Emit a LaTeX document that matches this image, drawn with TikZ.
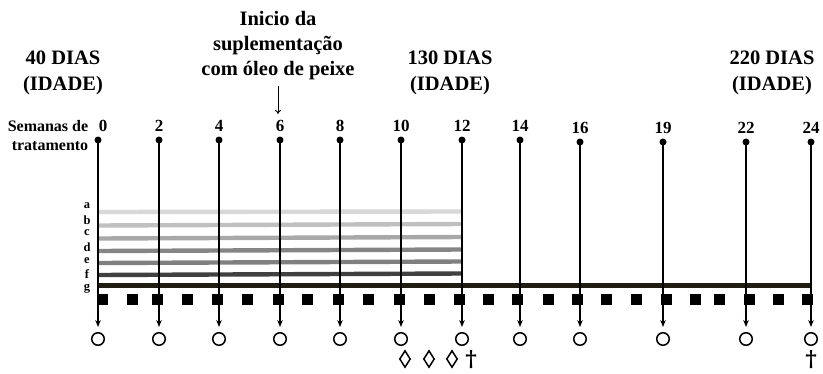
\documentclass[tikz,border=0pt]{standalone}
\usepackage{fontspec}
\setmainfont{Liberation Serif}
\newfontfamily\symfont{DejaVu Serif}
\usetikzlibrary{arrows.meta,shapes.geometric}
\definecolor{barA}{HTML}{D8D8D8}
\definecolor{barB}{HTML}{C0C0C0}
\definecolor{barC}{HTML}{A8A8A8}
\definecolor{barD}{HTML}{858585}
\definecolor{barE}{HTML}{808080}
\definecolor{barF}{HTML}{404040}
\definecolor{barG}{HTML}{201C12}
\tikzset{
  age/.style={align=center, font=\fontsize{20.5}{26}\selectfont\bfseries, inner sep=0pt},
  note/.style={align=center, font=\fontsize{20.5}{25}\selectfont\bfseries, inner sep=0pt},
  weeklbl/.style={font=\fontsize{17}{18}\selectfont\bfseries, inner sep=0pt},
  grp/.style={font=\fontsize{12.5}{13}\selectfont\bfseries, inner sep=0pt},
  dot/.style={circle, fill=black, minimum size=7pt, inner sep=0pt},
  obs/.style={circle, draw=black, line width=1.5pt, minimum size=12.5pt, inner sep=0pt},
  sq/.style={rectangle, fill=black, minimum size=11pt, inner sep=0pt},
  dia/.style={diamond, draw=black, line width=1.5pt, minimum width=11pt, minimum height=17pt, inner sep=0pt},
  dag/.style={font=\symfont\bfseries\fontsize{22}{22}\selectfont, inner sep=0pt},
  conn/.style={line width=1.1pt, -{Stealth[length=7pt,width=5.5pt]}, shorten >=5pt},
  bar/.style={line width=4.4pt},
}
\begin{document}
\begin{tikzpicture}[x=1pt,y=-1pt]
\useasboundingbox[fill=white] (0,0) rectangle (823,373);

% ages and start of supplementation
\node[age] (age40) at (63,73) {40 DIAS\\(IDADE)};
\node[age] (age130) at (450,73) {130 DIAS\\(IDADE)};
\node[age] (age220) at (772,73) {220 DIAS\\(IDADE)};
\node[note] (inicio) at (278,46) {Inicio da\\suplementação\\com óleo de peixe};
\coordinate (inicioend) at (278,114);
\draw[line width=0.9pt, -{To[length=4pt,width=6pt]}] (inicio.south) ++(0,6) -- (inicioend);

\node[align=right, inner sep=0pt, font=\fontsize{16}{19}\selectfont\bfseries] (semanas) at (48,136) {Semanas de\\tratamento};

% group bars a-f (weeks 0-12) and g (whole period)
\draw[bar, barA] (98,212) -- (462,211.5);
\draw[bar, barB] (98,225.5) -- (462,224);
\draw[bar, barC] (98,238.5) -- (462,237);
\draw[bar, barD] (98,251) -- (462,249.5);
\draw[bar, barE] (98,263) -- (462,261.5);
\draw[bar, barF] (98,275) -- (462,273.5);
\draw[line width=5pt, barG] (98,285.5) -- (811,285.5);

\foreach \l/\y in {a/206,b/220,c/233,d/247,e/261,f/274,g/289}
  \node[grp] (grp\l) at (87,\y) {\l};

% weekly markers
\foreach \x in {102,132,157,187,217,247,278,307,338,368,399,429,459,488,517,548,577,606,636,666,695,719,749,778,807}
  \node[sq] (sq\x) at (\x,299) {};

% sampling weeks: label, dot, arrow, circle
\foreach \w/\x/\y/\dx in {0/98/140/5,2/159/140/0,4/219/140/0,6/280/140/0,8/340/140/0,10/401/140/0,12/462/140/0,14/520/140/0,16/580/142/0,19/663/142/0,22/746/142/0,24/811/142/0}{
  \node[dot] (d\w) at (\x,\y) {};
  \node[obs] (c\w) at (\x,339) {};
  \node[weeklbl] (n\w) at (\x+\dx,\y-14) {\w};
  \draw[conn] (d\w.center) -- (c\w);
}

% events
\node[dia] (dia1) at (405,359) {};
\node[dia] (dia2) at (429,359) {};
\node[dia] (dia3) at (452,359) {};
\node[dag] (dag1) at (471,360) {†};
\node[dag] (dag2) at (811,360) {†};
\end{tikzpicture}
\end{document}
